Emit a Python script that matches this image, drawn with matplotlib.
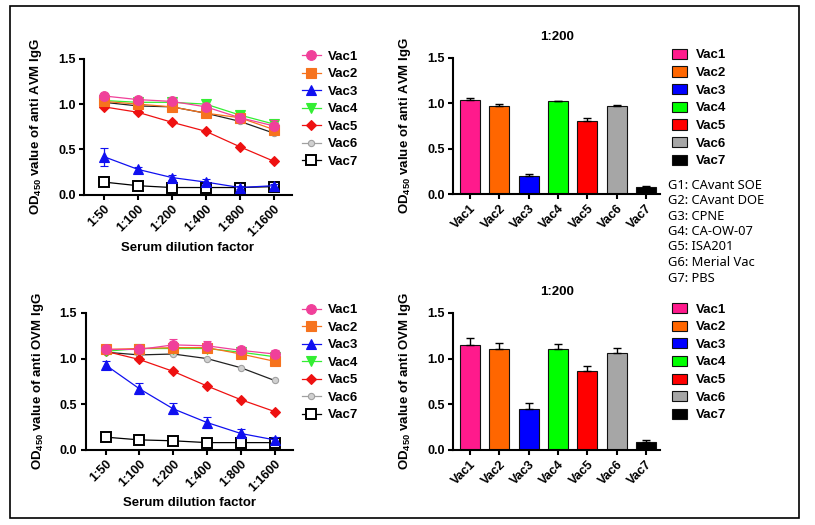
import matplotlib
matplotlib.use("Agg")
import matplotlib.pyplot as plt
from matplotlib.lines import Line2D
from matplotlib.patches import Rectangle, Patch
import numpy as np

plt.rcParams['font.family'] = ['Liberation Sans', 'DejaVu Sans']
plt.rcParams['font.weight'] = 'bold'
plt.rcParams['mathtext.fontset'] = 'custom'
plt.rcParams['mathtext.rm'] = 'Liberation Sans'

# ---------------- data ----------------
dilutions = ["1:50", "1:100", "1:200", "1:400", "1:800", "1:1600"]
groups = ["Vac1", "Vac2", "Vac3", "Vac4", "Vac5", "Vac6", "Vac7"]

avm_vac1 = [1.09, 1.05, 1.03, 0.97, 0.85, 0.76]
avm_vac2 = [1.03, 1.00, 0.97, 0.90, 0.85, 0.72]
avm_vac3 = [0.42, 0.28, 0.19, 0.14, 0.08, 0.10]
avm_vac4 = [1.04, 1.02, 1.02, 1.00, 0.88, 0.78]
avm_vac5 = [0.97, 0.91, 0.80, 0.70, 0.53, 0.37]
avm_vac6 = [1.02, 0.98, 0.97, 0.90, 0.81, 0.68]
avm_vac7 = [0.14, 0.10, 0.08, 0.08, 0.08, 0.09]
avm_err3 = [0.10, 0.03, 0.03, 0.03, 0.02, 0.02]
avm_err_hi = [0.02, 0.02, 0.02, 0.02, 0.02, 0.07]

ovm_vac1 = [1.10, 1.10, 1.15, 1.14, 1.09, 1.05]
ovm_vac2 = [1.10, 1.11, 1.12, 1.12, 1.05, 0.97]
ovm_vac3 = [0.93, 0.67, 0.45, 0.30, 0.18, 0.11]
ovm_vac4 = [1.08, 1.11, 1.11, 1.11, 1.07, 1.02]
ovm_vac5 = [1.08, 0.99, 0.86, 0.70, 0.55, 0.42]
ovm_vac6 = [1.07, 1.04, 1.05, 1.00, 0.90, 0.76]
ovm_vac7 = [0.14, 0.11, 0.10, 0.08, 0.08, 0.08]
ovm_err3 = [0.04, 0.06, 0.06, 0.06, 0.05, 0.03]
ovm_err_hi = [0.04, 0.04, 0.06, 0.05, 0.04, 0.04]

avm_bar = [1.04, 0.97, 0.20, 1.02, 0.80, 0.97, 0.08]
avm_bar_err = [0.02, 0.02, 0.02, 0.01, 0.04, 0.01, 0.01]
ovm_bar = [1.15, 1.11, 0.45, 1.11, 0.86, 1.06, 0.09]
ovm_bar_err = [0.07, 0.06, 0.06, 0.05, 0.06, 0.06, 0.02]

group_notes = ["G1: CAvant SOE", "G2: CAvant DOE", "G3: CPNE", "G4: CA-OW-07",
               "G5: ISA201", "G6: Merial Vac", "G7: PBS"]

# ---------------- styles ----------------
line_colors = ['#F0409A', '#F6731E', '#1010F0', '#33EE33', '#EE1111', '#A0A0A0', '#000000']
line_colors_ln = ['#F0409A', '#F6731E', '#1010F0', '#33EE33', '#EE1111', '#222222', '#000000']
markers = ['o', 's', '^', 'v', 'D', 'o', 's']
msizes = [7, 7, 7, 7, 5.5, 4.5, 7]
mfaces = ['#F0409A', '#F6731E', '#1010F0', '#33EE33', '#EE1111', '#D0D0D0', 'white']
bar_colors = ['#FF1A8C', '#FF6600', '#0000FF', '#00FF00', '#FF0000', '#A6A6A6', '#000000']

fig = plt.figure(figsize=(8.15, 5.25), dpi=100)

TFS = 9      # tick labels
LFS = 9.5    # legends / axis labels


def style_axes(ax):
    for s in ['top', 'right']:
        ax.spines[s].set_visible(False)
    for s in ['left', 'bottom']:
        ax.spines[s].set_linewidth(1.5)
    ax.tick_params(width=1.5, length=3.5, labelsize=TFS, direction='out', pad=2.5)
    ax.set_ylim(0, 1.5)
    ax.set_yticks([0, 0.5, 1.0, 1.5])
    ax.set_yticklabels(["0.0", "0.5", "1.0", "1.5"], fontweight='bold')


def line_panel(rect, series, err3, err_hi, label, legend_top):
    ax = fig.add_axes(rect)
    x = np.arange(len(dilutions))
    for i, y in enumerate(series):
        e = err3 if i == 2 else (err_hi if i == 0 else None)
        ax.errorbar(x, y, yerr=e, color=line_colors_ln[i], lw=0.9,
                    marker=markers[i], ms=msizes[i], mfc=mfaces[i],
                    mec=line_colors[i] if i != 6 else 'black', mew=1.4 if i == 6 else 0.8,
                    ecolor=line_colors[i], elinewidth=0.9, capsize=3, clip_on=False,
                    zorder=3 + (7 - i) * 0.1)
    style_axes(ax)
    ax.set_xlim(-0.59, 5.53)
    ax.set_xticks(x)
    ax.set_xticklabels(dilutions, rotation=45, ha='right', rotation_mode='anchor',
                       fontweight='bold')
    ax.set_xlabel("Serum dilution factor", fontsize=LFS, fontweight='bold', labelpad=2)
    ax.set_ylabel(r"OD$_{\mathregular{450}}$ value of anti " + label + " IgG",
                  fontsize=LFS, fontweight='bold', labelpad=10)
    handles = []
    for i in range(7):
        handles.append(Line2D([0], [0], color=line_colors[i], lw=0.9, marker=markers[i],
                              ms=msizes[i], mfc=mfaces[i],
                              mec=line_colors[i] if i != 6 else 'black',
                              mew=1.4 if i == 6 else 0.8))
    fig.legend(handles, groups, loc='upper left', bbox_to_anchor=(0.370, legend_top),
               frameon=False, prop={'weight': 'bold', 'size': LFS},
               handlelength=1.5, handletextpad=0.5, labelspacing=0.40,
               borderpad=0, borderaxespad=0)
    return ax


def bar_panel(rect, vals, errs, label, legend_top):
    ax = fig.add_axes(rect)
    x = np.arange(len(groups))
    ax.bar(x, vals, width=0.68, color=bar_colors, edgecolor='#111111', linewidth=0.8,
           yerr=[[0] * len(errs), errs], capsize=3,
           error_kw=dict(ecolor='black', elinewidth=1.0, capthick=1.0), zorder=2)
    style_axes(ax)
    ax.set_xlim(-0.58, 6.48)
    ax.set_xticks(x)
    ax.set_xticklabels(groups, rotation=45, ha='right', rotation_mode='anchor',
                       fontweight='bold')
    ax.set_title("1:200", fontsize=LFS, fontweight='bold', pad=13)
    ax.set_ylabel(r"OD$_{\mathregular{450}}$ value of anti " + label + " IgG",
                  fontsize=LFS, fontweight='bold', labelpad=10)
    handles = [Patch(facecolor=c, edgecolor='#111111', linewidth=0.8) for c in bar_colors]
    fig.legend(handles, groups, loc='upper left', bbox_to_anchor=(0.824, legend_top),
               frameon=False, prop={'weight': 'bold', 'size': LFS},
               handlelength=1.2, handleheight=0.8, handletextpad=0.65, labelspacing=0.38,
               borderpad=0, borderaxespad=0)
    return ax


line_panel([0.103, 0.629, 0.255, 0.259],
           [avm_vac1, avm_vac2, avm_vac3, avm_vac4, avm_vac5, avm_vac6, avm_vac7],
           avm_err3, avm_err_hi, "AVM", 0.904)
line_panel([0.105, 0.143, 0.254, 0.261],
           [ovm_vac1, ovm_vac2, ovm_vac3, ovm_vac4, ovm_vac5, ovm_vac6, ovm_vac7],
           ovm_err3, ovm_err_hi, "OVM", 0.421)
bar_panel([0.556, 0.630, 0.254, 0.260], avm_bar, avm_bar_err, "AVM", 0.907)
bar_panel([0.556, 0.143, 0.254, 0.261], ovm_bar, ovm_bar_err, "OVM", 0.423)

for k, t in enumerate(group_notes):
    fig.text(668 / 815, 1 - (185 + 15.5 * k) / 525, t, fontsize=9.3,
             family=['Noto Sans', 'DejaVu Sans'], fontweight='normal', va='center', ha='left')

fig.add_artist(Rectangle((10 / 815, 1 - 518 / 525), 789 / 815, 512 / 525,
                         transform=fig.transFigure, fill=False, lw=1.2, ec='black'))

fig.savefig("out.png", dpi=100)
